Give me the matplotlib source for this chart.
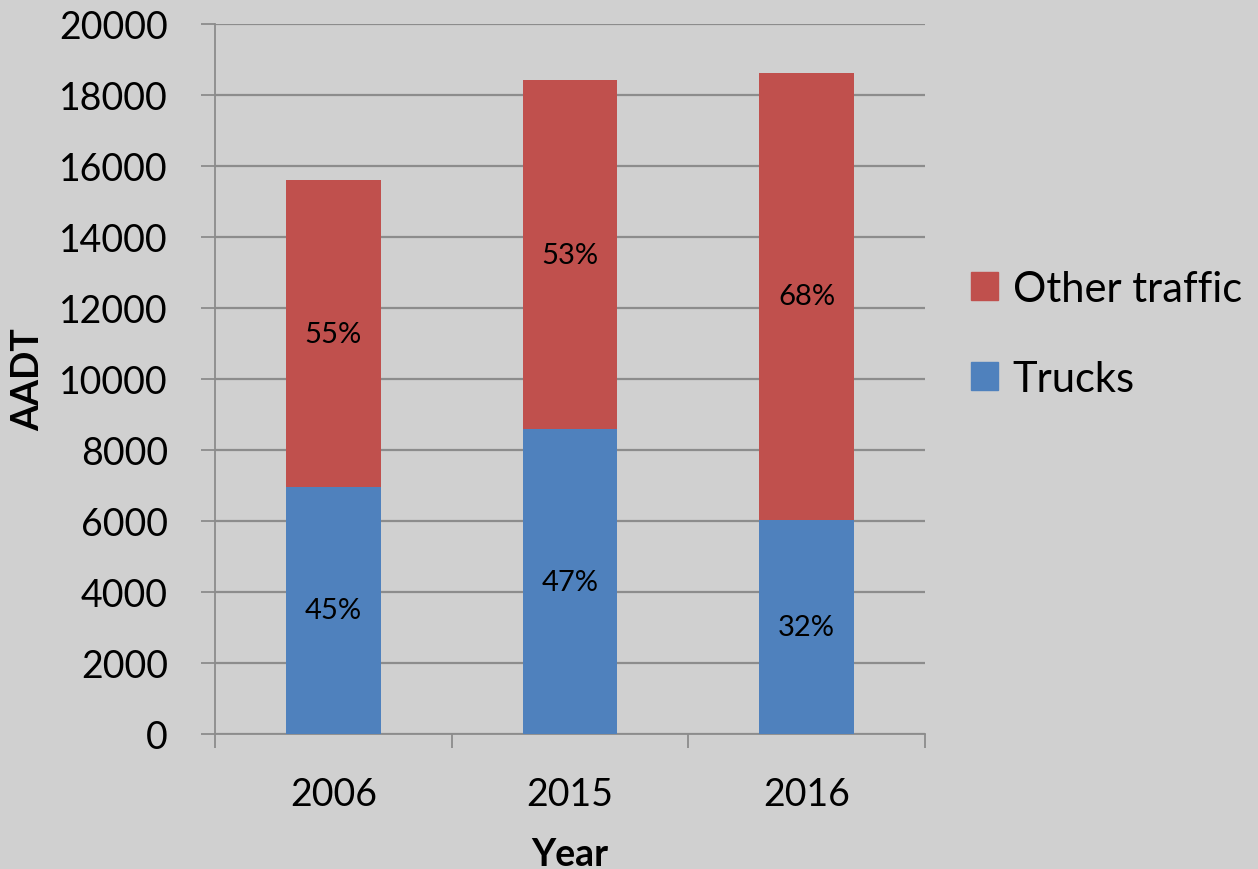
import numpy as np
import matplotlib
matplotlib.use("Agg")
import matplotlib.pyplot as plt
from matplotlib.patches import Patch

plt.rcParams['font.family'] = ['Lato', 'DejaVu Sans']

# datos
years = ['2006', '2015', '2016']
trucks = [6960, 8590, 6030]
other = [8640, 9830, 12590]
pct_trucks = ['45%', '47%', '32%']
pct_other = ['55%', '53%', '68%']
yticks = list(range(0, 20001, 2000))

bg = '#d0d0d0'
rojo = '#c0504d'
azul = '#4f81bd'
gris = '#8c8c8c'

fig = plt.figure(figsize=(12.58, 8.7), dpi=100, facecolor=bg)
ax = fig.add_axes([0.1709, 0.1552, 0.5644, 0.8161])
ax.set_facecolor(bg)

x = np.arange(len(years))
ax.bar(x, trucks, width=0.4, color=azul, zorder=3)
ax.bar(x, other, width=0.4, bottom=trucks, color=rojo, zorder=3)

# etiquetas de porcentaje en el centro de cada tramo
for i in range(len(years)):
    ax.text(x[i], trucks[i] / 2, pct_trucks[i], ha='center', va='center',
            fontsize=21, zorder=4)
    ax.text(x[i], trucks[i] + other[i] / 2, pct_other[i], ha='center',
            va='center', fontsize=21, zorder=4)

ax.set_xlim(-0.5, 2.5)
ax.set_ylim(0, 20000)
ax.set_yticks(yticks)
ax.set_yticklabels([str(v) for v in yticks])
ax.set_xticks(x)
ax.set_xticklabels(years)
ax.set_xticks([-0.5, 0.5, 1.5, 2.5], minor=True)

ax.yaxis.grid(True, color=gris, linewidth=1.6, zorder=0)
ax.tick_params(axis='y', length=10, width=1.3, color=gris, pad=24,
               labelsize=27)
ax.tick_params(axis='x', which='major', length=0, pad=30, labelsize=27)
ax.tick_params(axis='x', which='minor', length=10, width=1.3, color=gris)

for s in ['top', 'right']:
    ax.spines[s].set_visible(False)
for s in ['left', 'bottom']:
    ax.spines[s].set_color(gris)
    ax.spines[s].set_linewidth(1.3)

ax.set_ylabel('AADT', fontsize=27, fontweight='bold', labelpad=10)
ax.set_xlabel('Year', fontsize=27, fontweight='bold', labelpad=18)

handles = [Patch(color=rojo, label='Other traffic'),
           Patch(color=azul, label='Trucks')]
fig.legend(handles=handles, loc='center left',
           bbox_to_anchor=(0.742, 0.615), frameon=False, fontsize=30,
           handlelength=0.65, handleheight=0.65, handletextpad=0.35,
           labelspacing=1.25)

fig.savefig('out.png', dpi=100, facecolor=bg)
